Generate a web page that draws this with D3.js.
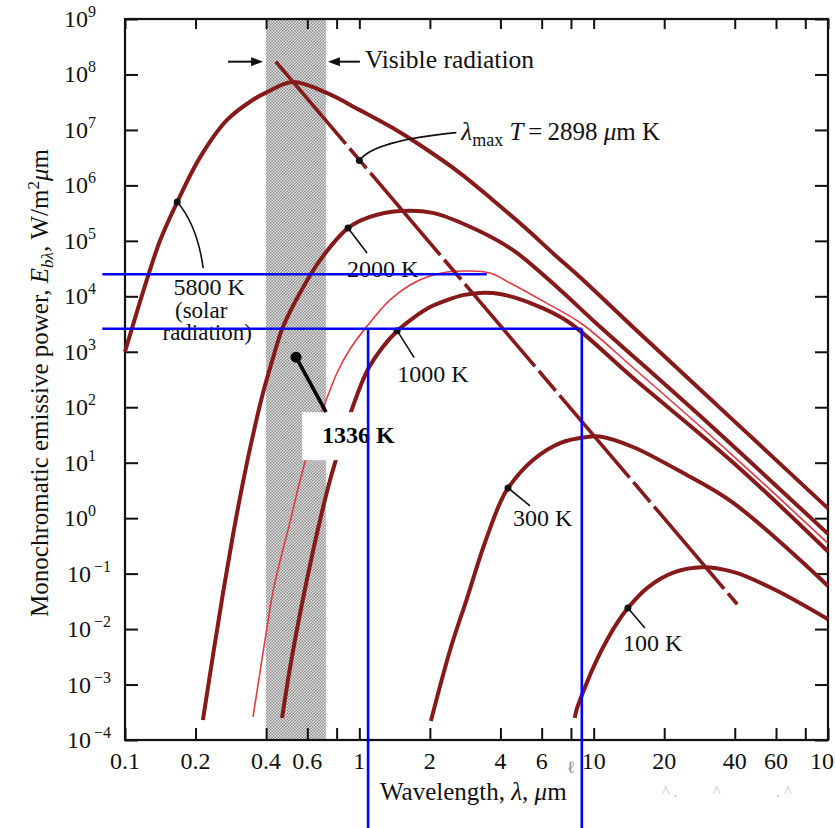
<!DOCTYPE html>
<html>
<head>
<meta charset="utf-8">
<script src="https://cdn.jsdelivr.net/npm/d3@7/dist/d3.min.js"></script>
<style>
  body { margin: 0; background: #fff; }
  svg { display: block; font-family: 'Liberation Serif', 'Times New Roman', serif; }
</style>
</head>
<body>
<svg id="chart"></svg>
<script>
// Blackbody curves: [wavelength in μm, E in W/m²μm]
const curve5800 = [[0.1, 1.0e3], [0.124, 2.0e4], [0.141, 1.0e5], [0.167, 5.0e5], [0.209, 3.2e6], [0.272, 1.5e7],
  [0.352, 3.5e7], [0.404, 4.8e7], [0.52, 7.3e7], [0.73, 4.6e7], [1.0, 2.3e7], [1.39, 1.08e7], [1.76, 5.8e6],
  [2.69, 1.67e6], [3.72, 5.4e5], [5.2, 1.6e5], [6.85, 5.5e4], [8.75, 2.2e4], [14.7, 2.8e3], [40, 55], [100, 1.5]]
const curve2000 = [[0.215, 2.3e-4], [0.2375, 3.4e-3], [0.262, 0.045], [0.289, 0.50], [0.319, 4.5], [0.352, 32],
  [0.388, 180], [0.428, 770], [0.472, 2.8e3], [0.558, 1.15e4], [0.68, 4.5e4], [0.895, 1.7e5], [1.11, 2.7e5],
  [1.49, 3.45e5], [2.06, 3.2e5], [3.18, 1.57e5], [4.53, 6.8e4], [7.2, 1.3e4], [10, 3.6e3], [30, 57], [100, 0.52]]
const curve1336 = [[0.352, 2.6e-4], [0.377, 1.7e-3], [0.404, 0.011], [0.428, 0.047], [0.459, 0.17], [0.506, 0.85],
  [0.547, 3.35], [0.5865, 10.3], [0.647, 39], [0.714, 119], [0.803, 414], [0.913, 1.12e3], [1.079, 2.9e3],
  [1.352, 8.6e3], [1.646, 1.6e4], [1.945, 2.23e4], [2.368, 2.74e4], [2.883, 2.86e4], [3.613, 2.63e4],
  [4.398, 1.74e4], [6.08, 8.2e3], [8.92, 3.17e3], [14.7, 520], [40, 12.5], [100, 0.35]]
const curve1000 = [[0.468, 2.5e-4], [0.506, 2.0e-3], [0.558, 0.0187], [0.616, 0.143], [0.68, 0.925], [0.75, 4.87],
  [0.836, 22.6], [0.94, 105], [1.079, 450], [1.25, 1.17e3], [1.449, 2.37e3], [1.696, 4.06e3], [2.004, 6.41e3],
  [2.368, 8.57e3], [2.771, 1.05e4], [3.274, 1.15e4], [3.986, 1.1e4], [5.51, 7.26e3], [7.7, 3.59e3],
  [14.7, 340], [40, 9.5], [100, 0.25]]
const curve300 = [[2.02, 2.2e-4], [2.44, 4.2e-3], [2.883, 0.0363], [3.373, 0.29], [3.986, 1.88], [4.313, 3.5],
  [5.51, 11.2], [7.19, 22.6], [9.37, 29], [10.6, 29.6], [14.7, 19.2], [24.1, 6.5], [39.4, 1.88], [100, 0.06]]
const curve100 = [[8.3, 2.5e-4], [8.5, 3.8e-4], [9, 7.2e-4], [10, 2.1e-3], [11, 4.8e-3], [12.5, 0.0123],
  [14, 0.024], [17, 0.056], [22, 0.105], [29, 0.13], [40, 0.105], [60, 0.05], [100, 0.015]]

// λmax T = 2898 μm K locus and the visible band (μm)
const lambdaMaxLine = [[0.44, 1.7e8], [41, 0.028]]
const lambdaMaxDot = [1.0, 2.8e6]
const visibleBand = [0.4, 0.72]

const labelNames = ['5800 K', '2000 K', '1000 K', '300 K', '100 K']
const labelDots = [[0.167, 5.0e5], [0.895, 1.7e5], [1.45, 2.4e3], [4.31, 3.5], [14, 0.024]]
const solarNote = ['(solar', 'radiation)']
const name1336 = '1336 K'
const dot1336 = [0.537, 800]

const xTickValues = [0.1, 0.2, 0.4, 0.6, 0.8, 1, 2, 4, 6, 8, 10, 20, 40, 60, 80, 100]
const xLabelValues = [0.1, 0.2, 0.4, 0.6, 1, 2, 4, 6, 8, 10, 20, 40, 60, 100]
const xLabelText = ['0.1', '0.2', '0.4', '0.6', '1', '2', '4', '6', 'ℓ', '10', '20', '40', '60', '100']
const yExponents = d3.range(-4, 10)

// blue marker lines drawn over the scan: [E, from λ, to λ] and vertical drops at λ
const blueLevels = [[2.5e4, 0.08, 3.5], [2.6e3, 0.08, 8.9]]
const blueDrops = [1.09, 8.9]

const width = 835
const height = 828
const curveColor = '#861a1a'

const svg = d3.select('#chart').attr('width', width).attr('height', height)

const x = d3.scaleLog().domain([0.1, 100]).range([125, 828])
const y = d3.scaleLog().domain([1e-4, 1e9]).range([740, 19])

svg.append('rect').attr('width', width).attr('height', height).attr('fill', '#fff')

const defs = svg.append('defs')
const pat = defs.append('pattern')
  .attr('id', 'screen')
  .attr('width', 3).attr('height', 3)
  .attr('patternUnits', 'userSpaceOnUse')
pat.append('rect').attr('width', 3).attr('height', 3).attr('fill', '#e6e6e6')
pat.append('rect').attr('width', 1.5).attr('height', 1.5).attr('fill', '#8a8a8a')
pat.append('rect').attr('x', 1.5).attr('y', 1.5).attr('width', 1.5).attr('height', 1.5).attr('fill', '#8a8a8a')

// Visible band
svg.append('rect')
  .attr('x', x(visibleBand[0]))
  .attr('width', x(visibleBand[1]) - x(visibleBand[0]))
  .attr('y', y(1e9))
  .attr('height', y(1e-4) - y(1e9))
  .attr('fill', 'url(#screen)')

/* Ticks (all pointing inward) */
const tickStyle = g => g
  .call(g => g.select('.domain').remove())
  .call(g => g.selectAll('.tick text').remove())
  .call(g => g.selectAll('.tick line').attr('stroke', '#111').attr('stroke-width', 2))

const yTickValues = yExponents.map(e => Math.pow(10, e))

svg.append('g').attr('transform', `translate(0,${y(1e-4)})`)
  .call(d3.axisBottom(x).tickValues(xTickValues).tickSizeInner(-12).tickSizeOuter(0))
  .call(tickStyle)
svg.append('g').attr('transform', `translate(0,${y(1e9)})`)
  .call(d3.axisTop(x).tickValues(xTickValues).tickSizeInner(-10).tickSizeOuter(0))
  .call(tickStyle)
svg.append('g').attr('transform', `translate(${x(0.1)},0)`)
  .call(d3.axisLeft(y).tickValues(yTickValues).tickSizeInner(-13).tickSizeOuter(0))
  .call(tickStyle)
svg.append('g').attr('transform', `translate(${x(100)},0)`)
  .call(d3.axisRight(y).tickValues(yTickValues).tickSizeInner(-13).tickSizeOuter(0))
  .call(tickStyle)

svg.append('rect')
  .attr('x', x(0.1)).attr('y', y(1e9))
  .attr('width', x(100) - x(0.1)).attr('height', y(1e-4) - y(1e9))
  .attr('fill', 'none').attr('stroke', '#111').attr('stroke-width', 2.2)

/* Curves */
const lineGen = d3.line()
  .x(d => x(d[0]))
  .y(d => y(d[1]))
  .curve(d3.curveCatmullRom.alpha(0.5))

const thickCurves = [curve5800, curve2000, curve1000, curve300, curve100]
svg.append('g').selectAll('path')
  .data(thickCurves)
  .join('path')
  .attr('d', lineGen)
  .attr('fill', 'none')
  .attr('stroke', curveColor)
  .attr('stroke-width', 4)

svg.append('path')
  .datum(curve1336)
  .attr('d', lineGen)
  .attr('fill', 'none')
  .attr('stroke', '#e23a44')
  .attr('stroke-width', 1.6)

svg.append('path')
  .datum(lambdaMaxLine)
  .attr('d', d3.line().x(d => x(d[0])).y(d => y(d[1])))
  .attr('fill', 'none')
  .attr('stroke', curveColor)
  .attr('stroke-width', 3.6)
  .attr('stroke-dasharray', '108 6 26 6')

/* Tick labels */
svg.append('g').selectAll('text')
  .data(xLabelValues)
  .join('text')
  .attr('x', d => x(d))
  .attr('y', 769)
  .attr('text-anchor', 'middle')
  .attr('font-size', (d, i) => xLabelText[i] === 'ℓ' ? 17 : 24)
  .attr('fill', (d, i) => xLabelText[i] === 'ℓ' ? '#8a8a8a' : '#111')
  .attr('dy', (d, i) => xLabelText[i] === 'ℓ' ? 4 : 0)
  .text((d, i) => xLabelText[i])

yExponents.forEach(e => {
  const t = svg.append('text')
    .attr('x', e < 0 ? 67 : 64)
    .attr('y', y(Math.pow(10, e)) + 8)
    .attr('font-size', 24)
    .attr('fill', '#111')
  t.append('tspan').text('10')
  t.append('tspan')
    .attr('dy', -10)
    .attr('dx', e < 0 ? 3 : 0)
    .attr('font-size', 16)
    .text(e < 0 ? '−' + (-e) : String(e))
})

/* Axis titles */
const yTitle = svg.append('text')
  .attr('transform', 'translate(48,383) rotate(-90)')
  .attr('text-anchor', 'middle')
  .attr('font-size', 25)
  .attr('fill', '#111')
yTitle.append('tspan').text('Monochromatic emissive power, ')
yTitle.append('tspan').attr('font-style', 'italic').text('E')
yTitle.append('tspan').attr('font-style', 'italic').attr('font-size', 17).attr('dy', 5).text('bλ')
yTitle.append('tspan').attr('dy', -5).text(', W/m')
yTitle.append('tspan').attr('font-size', 17).attr('dy', -9).text('2')
yTitle.append('tspan').attr('dy', 9).attr('font-style', 'italic').text('μ')
yTitle.append('tspan').text('m')

const xTitle = svg.append('text')
  .attr('x', 380).attr('y', 800)
  .attr('font-size', 25)
  .attr('fill', '#111')
xTitle.append('tspan').text('Wavelength, ')
xTitle.append('tspan').attr('font-style', 'italic').text('λ')
xTitle.append('tspan').text(', ')
xTitle.append('tspan').attr('font-style', 'italic').text('μ')
xTitle.append('tspan').text('m')

/* Visible radiation arrows */
const arrowY = y(1.7e8)
const arrow = (x0, x1) => {
  const dir = Math.sign(x1 - x0)
  svg.append('line')
    .attr('x1', x0).attr('x2', x1 - dir * 8)
    .attr('y1', arrowY).attr('y2', arrowY)
    .attr('stroke', '#111').attr('stroke-width', 2)
  svg.append('path')
    .attr('d', `M${x1},${arrowY} L${x1 - dir * 12},${arrowY - 4.5} L${x1 - dir * 12},${arrowY + 4.5} Z`)
    .attr('fill', '#111')
}
arrow(x(visibleBand[0]) - 38, x(visibleBand[0]) - 3)
arrow(x(visibleBand[1]) + 34, x(visibleBand[1]) + 2)

svg.append('text')
  .attr('x', x(visibleBand[1]) + 39).attr('y', arrowY + 6)
  .attr('font-size', 25.5).attr('fill', '#111')
  .text('Visible radiation')

/* λmax T label */
const [lmx, lmy] = [x(lambdaMaxDot[0]), y(lambdaMaxDot[1])]
svg.append('path')
  .attr('d', `M${lmx},${lmy} Q${lmx + 14},${lmy - 20} ${lmx + 97},${lmy - 28}`)
  .attr('fill', 'none').attr('stroke', '#111').attr('stroke-width', 1.6)
svg.append('circle').attr('cx', lmx).attr('cy', lmy).attr('r', 3.5).attr('fill', '#111')
const lmText = svg.append('text')
  .attr('x', lmx + 102).attr('y', lmy - 21)
  .attr('font-size', 25).attr('fill', '#111')
lmText.append('tspan').attr('font-style', 'italic').text('λ')
lmText.append('tspan').attr('font-size', 18).attr('dy', 6).text('max')
lmText.append('tspan').attr('dy', -6).attr('font-style', 'italic').text(' T')
lmText.append('tspan').text('\u2009=\u20092898 ')
lmText.append('tspan').attr('font-style', 'italic').text('μ')
lmText.append('tspan').text('m K')

/* Temperature labels with leader lines */
const leaderEnds = [[26, 66], [19, 25], [17, 27], [22, 18], [17, 20]]
const textOffsets = [[32, 93], [-1, 49], [0, 51], [5, 38], [-5, 43]]

labelDots.forEach((d, i) => {
  const cx = x(d[0])
  const cy = y(d[1])
  const [ex, ey] = leaderEnds[i]
  const path = i === 0
    ? `M${cx},${cy} Q${cx + 20},${cy + 23} ${cx + ex},${cy + ey}`
    : `M${cx},${cy} L${cx + ex},${cy + ey}`
  svg.append('path').attr('d', path)
    .attr('fill', 'none').attr('stroke', '#111').attr('stroke-width', 1.6)
  svg.append('circle').attr('cx', cx).attr('cy', cy).attr('r', 3.5).attr('fill', '#111')
  svg.append('text')
    .attr('x', cx + textOffsets[i][0]).attr('y', cy + textOffsets[i][1])
    .attr('text-anchor', i === 0 ? 'middle' : 'start')
    .attr('font-size', 24).attr('fill', '#111')
    .text(labelNames[i])
})

const sx = x(labelDots[0][0])
const sy = y(labelDots[0][1])
svg.append('text')
  .attr('x', sx + 24).attr('y', sy + 116)
  .attr('text-anchor', 'middle').attr('font-size', 23).attr('fill', '#111')
  .text(solarNote[0])
svg.append('text')
  .attr('x', sx + 30).attr('y', sy + 138)
  .attr('text-anchor', 'middle').attr('font-size', 23).attr('fill', '#111')
  .text(solarNote[1])

/* 1336 K callout */
const kx = x(dot1336[0])
const ky = y(dot1336[1])
svg.append('rect')
  .attr('x', kx + 6).attr('y', ky + 55)
  .attr('width', 96).attr('height', 48)
  .attr('fill', '#fff')
svg.append('line')
  .attr('x1', kx).attr('y1', ky)
  .attr('x2', kx + 30).attr('y2', ky + 55)
  .attr('stroke', '#000').attr('stroke-width', 3.6)
svg.append('circle').attr('cx', kx).attr('cy', ky).attr('r', 5.5).attr('fill', '#000')
svg.append('text')
  .attr('x', kx + 26).attr('y', ky + 86)
  .attr('font-size', 24).attr('font-weight', 'bold').attr('fill', '#000')
  .text(name1336)

/* Blue marker lines */
svg.append('g').selectAll('line')
  .data(blueLevels)
  .join('line')
  .attr('x1', d => x(d[1])).attr('x2', d => x(d[2]))
  .attr('y1', d => y(d[0])).attr('y2', d => y(d[0]))
  .attr('stroke', '#0000ff').attr('stroke-width', 2.6)

svg.append('g').selectAll('line')
  .data(blueDrops)
  .join('line')
  .attr('x1', d => x(d)).attr('x2', d => x(d))
  .attr('y1', y(blueLevels[1][0])).attr('y2', height + 5)
  .attr('stroke', '#0000ff').attr('stroke-width', 2.6)

/* faint scan marks under the axis */
svg.append('g').selectAll('text')
  .data([[662, '^ .'], [713, '^'], [776, '. ^']])
  .join('text')
  .attr('x', d => d[0]).attr('y', 797)
  .attr('font-size', 16).attr('fill', '#c4c4c4')
  .text(d => d[1])
</script>
</body>
</html>
